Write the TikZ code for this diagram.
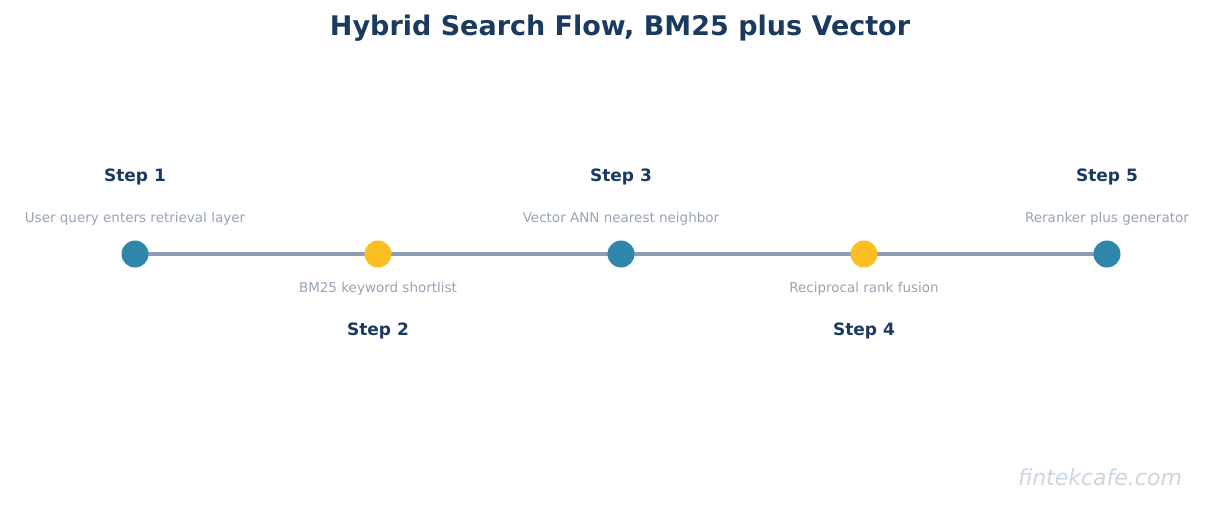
\documentclass[tikz,border=0pt]{standalone}
\usepackage{fontspec}
\setmainfont{DejaVu Sans}
\definecolor{navy}{HTML}{1B3A5F}
\definecolor{teal}{HTML}{2E86AB}
\definecolor{gold}{HTML}{FBBF24}
\definecolor{lgray}{HTML}{97A3B6}
\definecolor{linec}{HTML}{8E9DB3}
\definecolor{wm}{HTML}{CBD5E1}
\begin{document}
\begin{tikzpicture}[x=1pt,y=-1pt,
 dot/.style={circle,inner sep=0pt,minimum size=27pt},
 steplbl/.style={text=navy,font=\fontsize{17}{20}\selectfont\bfseries},
 desc/.style={text=lgray,font=\fontsize{13.5}{16}\selectfont}]
\useasboundingbox[fill=white] (0,0) rectangle (1211,504);
\node[text=navy,font=\fontsize{27}{32}\selectfont\bfseries] (title) at (620,28) {Hybrid Search Flow, BM25 plus Vector};
\coordinate (c1) at (135,254);
\coordinate (c5) at (1107,254);
\draw[linec,line width=4pt] (c1) -- (c5);
\node[dot,fill=teal] (n1) at (c1) {};
\node[dot,fill=gold] (n2) at (378,254) {};
\node[dot,fill=teal] (n3) at (621,254) {};
\node[dot,fill=gold] (n4) at (864,254) {};
\node[dot,fill=teal] (n5) at (c5) {};
\node[steplbl] (s1) at (135,177) {Step 1};
\node[desc] (d1) at (135,219) {User query enters retrieval layer};
\node[steplbl] (s3) at (621,177) {Step 3};
\node[desc] (d3) at (621,219) {Vector ANN nearest neighbor};
\node[steplbl] (s5) at (1107,177) {Step 5};
\node[desc] (d5) at (1107,219) {Reranker plus generator};
\node[desc] (d2) at (378,289) {BM25 keyword shortlist};
\node[steplbl] (s2) at (378,331) {Step 2};
\node[desc] (d4) at (864,289) {Reciprocal rank fusion};
\node[steplbl] (s4) at (864,331) {Step 4};
\node[text=wm,font=\fontsize{22}{24}\selectfont\itshape] (w) at (1100,477) {fintekcafe.com};
\end{tikzpicture}
\end{document}
